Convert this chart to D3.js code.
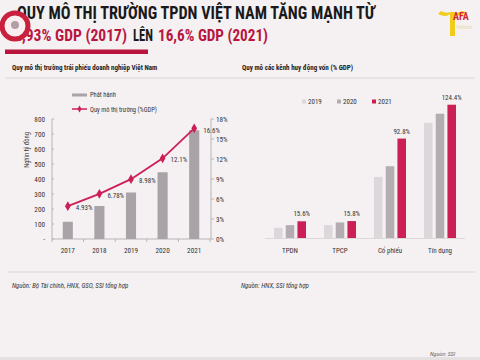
<!DOCTYPE html>
<html><head><meta charset="utf-8">
<script src="https://cdn.jsdelivr.net/npm/d3@7"></script>
<style>
html,body{margin:0;padding:0;background:#f5f1f3;}
svg{display:block;}
text{font-family:"Liberation Sans Narrow","Roboto Condensed","Arial Narrow","Liberation Sans",sans-serif;}
</style></head>
<body>
<svg id="c" width="480" height="360"></svg>
<script>
// ---- data ----
const years = ["2017","2018","2019","2020","2021"];
const issuance = [115, 220, 310, 445, 725];          // Phát hành (nghìn tỷ đồng)
const marketPct = [4.93, 6.78, 8.98, 12.1, 16.6];    // Quy mô thị trường (%GDP)
const marketLabels = ["4.93%", "6.78%", "8.98%", "12.1%", "16.6%"];
const leftTicks = [0, 100, 200, 300, 400, 500, 600, 700, 800];
const rightTicks = [0, 3, 6, 9, 12, 15, 18];

const channels = ["TPDN", "TPCP", "Cổ phiếu", "Tín dụng"];
const seriesNames = ["2019", "2020", "2021"];
const s2019 = [9.5, 12.0, 57.0, 107.5];
const s2020 = [12.0, 14.5, 67.0, 116.0];
const s2021 = [15.6, 15.8, 92.8, 124.4];
const s2021Labels = ["15.6%", "15.8%", "92.8%", "124.4%"];

const svg = d3.select("#c");
const crimson = "#cc1f55";
const dark = "#333";

svg.append("rect").attr("width",480).attr("height",360).attr("fill","#f5f1f3");
svg.append("rect").attr("x",0).attr("y",357).attr("width",480).attr("height",3).attr("fill","#e4e0e2");

// ---- title ----
svg.append("text").attr("x",17).attr("y",19).attr("font-size",17.5).attr("font-weight","bold")
  .attr("fill","#1a1a1a").attr("textLength",358).attr("lengthAdjust","spacingAndGlyphs")
  .text("QUY MÔ THỊ TRƯỜNG TPDN VIỆT NAM TĂNG MẠNH TỪ");
const titleParts = [
  {t:"4,93% GDP (2017)", x:14, w:113, c:"#b8163f"},
  {t:"LÊN", x:133, w:20, c:"#1a1a1a"},
  {t:"16,6% GDP (2021)", x:158, w:110, c:"#b8163f"}
];
svg.selectAll(".tp").data(titleParts).join("text")
  .attr("x",d=>d.x).attr("y",41).attr("font-size",16).attr("font-weight","bold")
  .attr("fill",d=>d.c).attr("textLength",d=>d.w).attr("lengthAdjust","spacingAndGlyphs")
  .text(d=>d.t);
svg.append("rect").attr("x",5).attr("y",49.5).attr("width",143).attr("height",4.5).attr("fill","#b8163f");

// left badge logo
const badge = svg.append("g").attr("transform","translate(15,26)");
badge.append("circle").attr("r",13).attr("fill","#fbeef0").attr("stroke","#c8203d").attr("stroke-width",5);
badge.append("circle").attr("r",4).attr("cy",-1).attr("fill","#b0a0a5");
// right logo
const lg = svg.append("g").attr("transform","translate(436,4)");
lg.append("path").attr("d","M2,10 Q10,14 14,10 L14,32 L19,32 L19,10 Q24,14 30,8 L26,7 Q22,10 18,8 L15,8 Q10,10 5,7 Z").attr("fill","#f2cc1c");
lg.append("text").attr("x",17).attr("y",16).attr("font-size",10).attr("font-weight","bold").attr("fill","#d4262f").text("AFA");
lg.append("text").attr("x",20).attr("y",25).attr("font-size",5).attr("fill","#e7d9b0").text("Vietnam");

// sub titles and separators
svg.append("text").attr("x",12).attr("y",70).attr("font-size",7).attr("font-weight","bold").attr("fill","#222")
  .text("Quy mô thị trường trái phiếu doanh nghiệp Việt Nam");
svg.append("text").attr("x",242).attr("y",70).attr("font-size",7).attr("font-weight","bold").attr("fill","#222")
  .text("Quy mô các kênh huy động vốn (% GDP)");
svg.append("line").attr("x1",5).attr("x2",475).attr("y1",78).attr("y2",78).attr("stroke","#e2dde0").attr("stroke-width",1.5);
svg.append("line").attr("x1",8).attr("x2",475).attr("y1",272).attr("y2",272).attr("stroke","#e2dde0").attr("stroke-width",1.5);
svg.append("text").attr("x",12).attr("y",288).attr("font-size",6.8).attr("font-style","italic").attr("fill","#333")
  .text("Nguồn: Bộ Tài chính, HNX, GSO, SSI tổng hợp");
svg.append("text").attr("x",241).attr("y",288).attr("font-size",6.8).attr("font-style","italic").attr("fill","#333")
  .text("Nguồn: HNX, SSI tổng hợp");
svg.append("text").attr("x",430).attr("y",356).attr("font-size",6).attr("font-style","italic").attr("fill","#666")
  .text("Nguồn: SSI");

// ---- left chart ----
const xL = d3.scaleBand().domain(years).range([52,210]).paddingInner(0.68).paddingOuter(0.34);
const yL = d3.scaleLinear().domain([0,800]).range([239,119]);
const yR = d3.scaleLinear().domain([0,18]).range([239,119]);
const axisCol = "#b9b4b7";

const gl = svg.append("g");
gl.append("line").attr("x1",52).attr("x2",52).attr("y1",119).attr("y2",239).attr("stroke",axisCol);
gl.append("line").attr("x1",211).attr("x2",211).attr("y1",119).attr("y2",239).attr("stroke",axisCol);
gl.append("line").attr("x1",52).attr("x2",211).attr("y1",239).attr("y2",239).attr("stroke",axisCol);
gl.selectAll(".lt").data(leftTicks).join("text")
  .attr("x",45).attr("y",d=>yL(d)+2.5).attr("text-anchor","end").attr("font-size",7.2).attr("fill",dark)
  .text(d=> d===0 ? "-" : d);
gl.selectAll(".ltk").data(leftTicks).join("line")
  .attr("x1",52).attr("x2",54).attr("y1",d=>yL(d)).attr("y2",d=>yL(d)).attr("stroke",axisCol);
gl.selectAll(".rt").data(rightTicks).join("text")
  .attr("x",216).attr("y",d=>yR(d)+2.5).attr("font-size",7.2).attr("fill",dark)
  .text(d=>d+"%");
gl.selectAll(".rtk").data(rightTicks).join("line")
  .attr("x1",211).attr("x2",214).attr("y1",d=>yR(d)).attr("y2",d=>yR(d)).attr("stroke",axisCol);
gl.selectAll(".xt").data(years).join("text")
  .attr("x",d=>xL(d)+xL.bandwidth()/2).attr("y",253).attr("text-anchor","middle").attr("font-size",7.2).attr("fill",dark)
  .text(d=>d);
gl.selectAll(".xtk").data(d3.range(years.length+1)).join("line")
  .attr("x1",i=>52+i*xL.step()).attr("x2",i=>52+i*xL.step()).attr("y1",239).attr("y2",242).attr("stroke",axisCol);
svg.append("text").attr("transform","translate(29,150) rotate(-90)").attr("text-anchor","middle")
  .attr("font-size",6.5).attr("fill",dark).text("Nghìn tỷ đồng");

gl.selectAll(".bar").data(issuance).join("rect")
  .attr("x",(d,i)=>xL(years[i])).attr("width",xL.bandwidth())
  .attr("y",d=>yL(d)).attr("height",d=>239-yL(d)).attr("fill","#a9a2a7");

const line = d3.line().x((d,i)=>xL(years[i])+xL.bandwidth()/2).y(d=>yR(d));
gl.append("path").datum(marketPct).attr("d",line).attr("fill","none").attr("stroke",crimson).attr("stroke-width",1.8);
gl.selectAll(".mk").data(marketPct).join("path")
  .attr("transform",(d,i)=>`translate(${xL(years[i])+xL.bandwidth()/2},${yR(d)})`)
  .attr("d",d3.symbol().type(d3.symbolDiamond).size(28)).attr("fill",crimson);
gl.selectAll(".ml").data(marketPct).join("text")
  .attr("x",(d,i)=>xL(years[i])+xL.bandwidth()/2 + (i===4 ? 9 : 8))
  .attr("y",(d,i)=> i===4 ? yR(d)+5 : yR(d)+4)
  .attr("font-size",7).attr("fill",dark)
  .text((d,i)=>marketLabels[i]);

// legend left
svg.append("rect").attr("x",72).attr("y",93.5).attr("width",15).attr("height",3).attr("fill","#aaa3a8");
svg.append("text").attr("x",90).attr("y",97).attr("font-size",6.5).attr("fill",dark).text("Phát hành");
svg.append("line").attr("x1",72).attr("x2",87).attr("y1",109).attr("y2",109).attr("stroke",crimson).attr("stroke-width",1.5);
svg.append("path").attr("transform","translate(79.5,109)").attr("d",d3.symbol().type(d3.symbolDiamond).size(14)).attr("fill",crimson);
svg.append("text").attr("x",90).attr("y",111.5).attr("font-size",6.5).attr("fill",dark).text("Quy mô thị trường (%GDP)");

// ---- right chart ----
const x0 = d3.scaleBand().domain(channels).range([265,465]).paddingInner(0.36).paddingOuter(0.18);
const x1 = d3.scaleBand().domain(seriesNames).range([0,x0.bandwidth()]).paddingInner(0.27);
const y2 = d3.scaleLinear().domain([0,140]).range([238,88]);
const colors = {"2019":"#dcd7da","2020":"#b3adb1","2021":crimson};
const seriesData = {"2019":s2019,"2020":s2020,"2021":s2021};

const gr = svg.append("g");
gr.append("line").attr("x1",265).attr("x2",465).attr("y1",238.5).attr("y2",238.5).attr("stroke","#dcd8da").attr("stroke-width",1.2);
seriesNames.forEach(s=>{
  gr.selectAll(".b"+s).data(seriesData[s]).join("rect")
    .attr("x",(d,i)=>x0(channels[i])+x1(s)).attr("width",x1.bandwidth())
    .attr("y",d=>y2(d)).attr("height",d=>238-y2(d)).attr("fill",colors[s]);
});
gr.selectAll(".lb").data(s2021).join("text")
  .attr("x",(d,i)=>x0(channels[i])+x1("2021")+x1.bandwidth()/2).attr("y",d=>y2(d)-5)
  .attr("text-anchor","middle").attr("font-size",7).attr("fill",dark).text((d,i)=>s2021Labels[i]);
gr.selectAll(".cl").data(channels).join("text")
  .attr("x",d=>x0(d)+x0.bandwidth()/2).attr("y",253).attr("text-anchor","middle").attr("font-size",7).attr("fill",dark)
  .text(d=>d);

// legend right
seriesNames.forEach((s,i)=>{
  const lx = 302 + i*35;
  svg.append("rect").attr("x",lx).attr("y",99.5).attr("width",4).attr("height",4).attr("fill",colors[s]);
  svg.append("text").attr("x",lx+6).attr("y",104).attr("font-size",7).attr("fill",dark).text(s);
});
</script>
</body></html>
